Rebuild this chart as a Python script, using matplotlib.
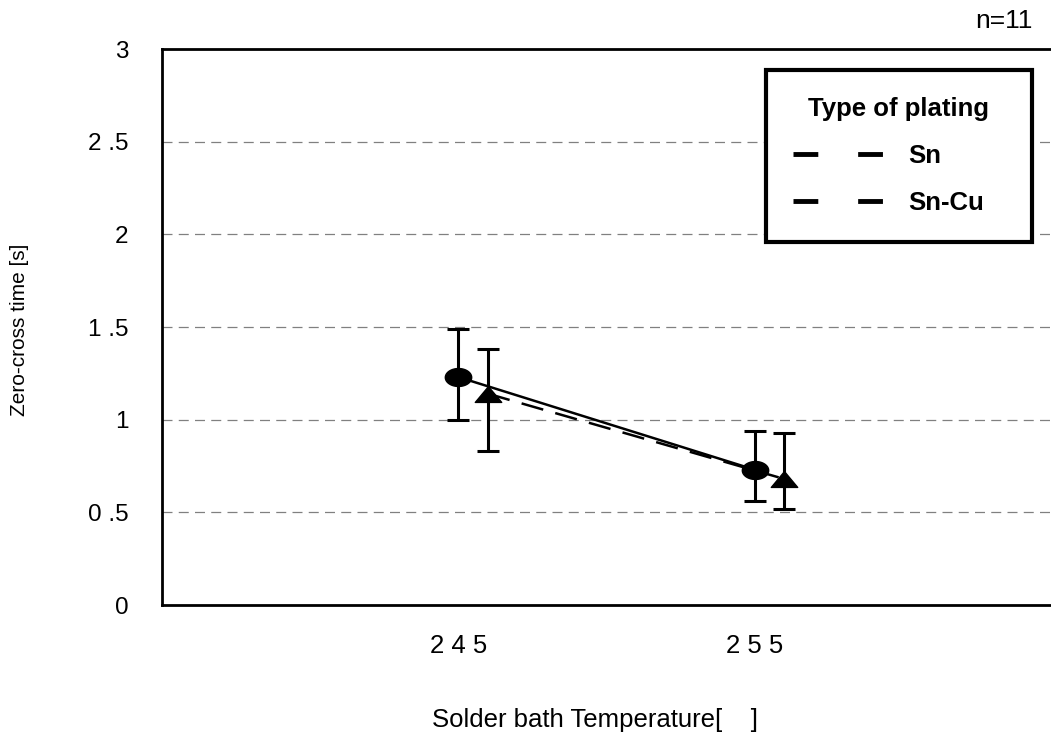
import matplotlib
matplotlib.use('Agg')
import matplotlib.pyplot as plt
from matplotlib.lines import Line2D
from matplotlib.path import Path
import numpy as np

plt.rcParams['font.family'] = ['Liberation Sans', 'DejaVu Sans']

# data
temps = ["2 4 5", "2 5 5"]
sn_mean = [1.23, 0.73]
sn_top = [1.49, 0.94]
sn_bottom = [1.00, 0.56]
sncu_mean = [1.14, 0.68]
sncu_top = [1.38, 0.93]
sncu_bottom = [0.83, 0.52]
y_ticks = [0, 0.5, 1, 1.5, 2, 2.5, 3]
y_ticklabels = ["0", "0 .5", "1", "1 .5", "2", "2 .5", "3"]

# flattened marker shapes (the reference is squashed vertically)
t = np.linspace(0, 2 * np.pi, 60)
ellipse = Path(np.column_stack([np.cos(t), 0.68 * np.sin(t)]), closed=True)
triangle = Path([(-1, -0.6), (1, -0.6), (0, 0.6), (-1, -0.6)], closed=True)

fig = plt.figure(figsize=(10.51, 7.38), dpi=100)
ax = fig.add_axes([162 / 1051, 1 - 605 / 738, 889 / 1051, 556 / 738])

x = np.arange(len(temps))
off = 0.1

def draw(xs, mean, top, bottom, marker, ls):
    mean = np.array(mean)
    yerr = [mean - np.array(bottom), np.array(top) - mean]
    ax.errorbar(xs, mean, yerr=yerr, fmt='none', ecolor='black', elinewidth=2.2,
                capsize=8, capthick=2.2, zorder=3)
    ax.plot(xs, mean, color='black', lw=1.8, ls=ls, zorder=3)
    ax.plot(xs, mean, ls='none', marker=marker, ms=19, color='black', zorder=4)

draw(x, sn_mean, sn_top, sn_bottom, ellipse, '-')
draw(x + off, sncu_mean, sncu_top, sncu_bottom, triangle, (0, (9, 5)))

ax.set_xlim(-1, 2)
ax.set_ylim(0, 3)
ax.set_yticks(y_ticks)
ax.set_yticklabels(y_ticklabels)
ax.set_xticks(x)
ax.set_xticklabels(temps)
ax.tick_params(axis='y', length=0, pad=24, labelsize=17.5)
ax.tick_params(axis='x', length=0, pad=21, labelsize=18.5)

for yv in y_ticks[1:-1]:
    ax.axhline(yv, color='#808080', lw=0.9, ls=(0, (8, 5)), zorder=1)

for s in ['left', 'bottom', 'top']:
    ax.spines[s].set_linewidth(2)
ax.spines['right'].set_visible(False)

handles = [Line2D([], [], color='black', lw=3.5, dashes=(5.1, 8.2)),
           Line2D([], [], color='black', lw=3.5, dashes=(5.1, 8.2))]
leg = ax.legend(handles, ["Sn", "Sn-Cu"], title="Type of plating",
                loc='upper left', bbox_to_anchor=(0.6794, 0.5, 0.2992, 0.462),
                mode='expand', borderaxespad=0,
                fancybox=False, edgecolor='black', framealpha=1,
                prop={'weight': 'bold', 'size': 18.5},
                title_fontproperties={'weight': 'bold', 'size': 18.5},
                handlelength=3.5, handletextpad=1.0, labelspacing=0.9,
                borderpad=1.05)
leg.get_frame().set_linewidth(3)

fig.text(20 / 1051, 1 - 330 / 738, "Zero-cross time [s]", rotation=90,
         ha='center', va='center', fontsize=15)
fig.text(595 / 1051, 1 - 720 / 738, "Solder bath Temperature[    ]",
         ha='center', va='center', fontsize=18.5)
fig.text(1033 / 1051, 1 - 21 / 738, "n=11", ha='right', va='center', fontsize=19)

fig.savefig("out.png", dpi=100)
